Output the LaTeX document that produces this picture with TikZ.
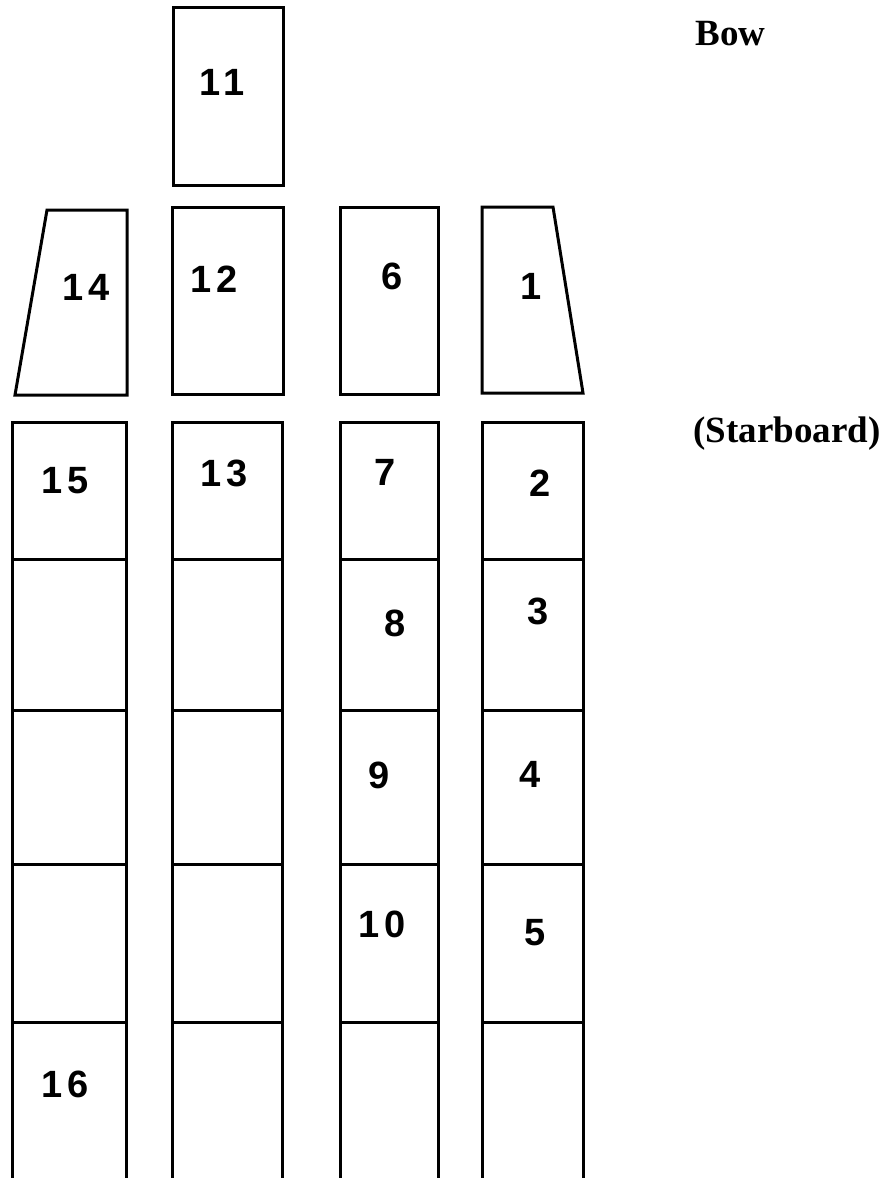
\documentclass[tikz,border=0pt]{standalone}
\usepackage{fontspec}
\setmainfont{Liberation Serif}
\newfontfamily\digitfont[LetterSpace=12]{Liberation Sans}
\begin{document}
\begin{tikzpicture}[x=0.5pt,y=-0.5pt,
  wall/.style={line width=1.5pt, line join=miter, line cap=rect},
  num/.style={font=\digitfont\bfseries\fontsize{19}{19}\selectfont, inner sep=0pt},
  lbl/.style={font=\bfseries\fontsize{18.5}{20}\selectfont, inner sep=0pt, anchor=west}]
\useasboundingbox (0,0) rectangle (883,1178);
% bow tank 11
\draw[wall] (173,7) rectangle (283,185);
% row of 14, 12, 6, 1
\draw[wall] (47,210) -- (127,210) -- (127,395) -- (15,395) -- cycle;
\draw[wall] (172,207) rectangle (283,394);
\draw[wall] (340,207) rectangle (438,394);
\draw[wall] (482,207) -- (553,207) -- (583,393) -- (482,393) -- cycle;
% long columns, open at the stern end
\foreach \xa/\xb in {12/126, 172/282, 340/438, 482/583}{
  \draw[wall] (\xa,1178) -- (\xa,422) -- (\xb,422) -- (\xb,1178);
  \foreach \yy in {559,710,864,1022}{
    \draw[wall] (\xa,\yy) -- (\xb,\yy);
  }
}
% tank numbers
\node[num] (n11) at (222,82) {11};
\node[num] (n14) at (86,287) {14};
\node[num] (n12) at (214,279) {12};
\node[num] (n6) at (392,276) {6};
\node[num] (n1) at (531,286) {1};
\node[num] (n15) at (65,481) {15};
\node[num] (n13) at (224,473) {13};
\node[num] (n7) at (385,472) {7};
\node[num] (n2) at (540,483) {2};
\node[num] (n8) at (395,623) {8};
\node[num] (n3) at (538,611) {3};
\node[num] (n9) at (379,775) {9};
\node[num] (n4) at (530,774) {4};
\node[num] (n10) at (382,924) {10};
\node[num] (n5) at (535,933) {5};
\node[num] (n16) at (65,1084) {16};
% side labels
\node[lbl] (bow) at (695,34) {Bow};
\node[lbl] (stb) at (693,434) {(Starboard)};
\end{tikzpicture}
\end{document}
